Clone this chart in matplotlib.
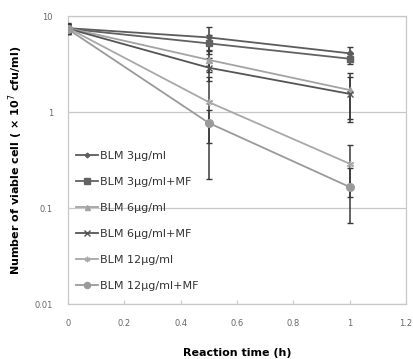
import matplotlib
matplotlib.use("Agg")
import matplotlib.pyplot as plt
from matplotlib.ticker import FixedLocator, NullLocator
from matplotlib.lines import Line2D

time_h = [0, 0.5, 1]
series_labels = ["BLM 3μg/ml", "BLM 3μg/ml+MF", "BLM 6μg/ml",
                 "BLM 6μg/ml+MF", "BLM 12μg/ml", "BLM 12μg/ml+MF"]
blm3 = [7.5, 6.0, 4.1]
blm3_mf = [7.4, 5.2, 3.6]
blm6 = [7.5, 3.5, 1.7]
blm6_mf = [7.4, 2.9, 1.55]
blm12 = [7.5, 1.27, 0.29]
blm12_mf = [7.3, 0.77, 0.166]
err_blm3 = [1.0, 1.7, 0.65]
err_blm3_mf = [0.9, 1.2, 0.4]
err_blm6 = [0.8, 0.9, 0.85]
err_blm6_mf = [0.8, 0.8, 0.77]
err_blm12 = [0.8, 1.07, 0.16]
err_blm12_mf = [0.8, 0.29, 0.096]
y_ticks = [0.01, 0.1, 1, 10]
y_ticklabels = ["0.01", "0.1", "1", "10"]
x_ticks = [0, 0.2, 0.4, 0.6, 0.8, 1, 1.2]
x_ticklabels = ["0", "0.2", "0.4", "0.6", "0.8", "1", "1.2"]

values = [blm3, blm3_mf, blm6, blm6_mf, blm12, blm12_mf]
errors = [err_blm3, err_blm3_mf, err_blm6, err_blm6_mf, err_blm12, err_blm12_mf]
colors = ["#5c5c5c", "#626262", "#a3a3a3", "#555555", "#a8a8a8", "#9a9a9a"]
markers = ["D", "s", "^", "x", (6, 2, 0), "o"]
msizes = [3, 5, 4.5, 5, 5, 5.5]

fig = plt.figure(figsize=(4.13, 3.59), dpi=100)
ax = fig.add_axes([0.165, 0.153, 0.818, 0.802])

handles = []
for v, e, c, m, ms, lab in zip(values, errors, colors, markers, msizes, series_labels):
    ax.errorbar(time_h, v, yerr=e, color=c, marker=m, markersize=ms,
                linewidth=1.3, ecolor="#3a3a3a", elinewidth=1.1, capsize=2.5,
                capthick=1.0, zorder=3)
    handles.append(Line2D([], [], color=c, marker=m, markersize=ms * 0.8,
                          linewidth=1.3, label=lab))

ax.set_yscale("log")
ax.set_ylim(0.01, 10)
ax.set_xlim(0, 1.2)
ax.yaxis.set_major_locator(FixedLocator(y_ticks))
ax.yaxis.set_minor_locator(NullLocator())
ax.set_yticklabels(y_ticklabels)
ax.set_xticks(x_ticks)
ax.set_xticklabels(x_ticklabels)
ax.grid(axis="y", which="major", color="#c8c8c8", linewidth=0.9)
for s in ax.spines.values():
    s.set_color("#c8c8c8")
    s.set_linewidth(0.9)
ax.tick_params(axis="both", labelsize=6, colors="#c8c8c8", labelcolor="#666666",
               length=3, width=0.8)
ax.tick_params(axis="x", direction="in", pad=11)
ax.tick_params(axis="y", length=0, pad=11)

ax.set_xlabel("Reaction time (h)", fontsize=8, fontweight="bold", labelpad=14)
ax.set_ylabel("Number of viable cell ( × 10$^7$ cfu/ml)", fontsize=8, fontweight="bold",
              labelpad=7)

leg = ax.legend(handles=handles, loc="upper left", bbox_to_anchor=(0.0, 0.56),
                frameon=False, fontsize=8, labelspacing=1.45, handlelength=2.0,
                handletextpad=0.2, borderaxespad=0.3)
for t in leg.get_texts():
    t.set_color("#333333")

fig.savefig("out.png", dpi=100)
